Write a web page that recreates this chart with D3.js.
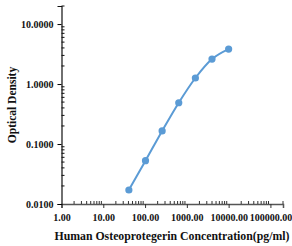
<!doctype html>
<html lang="en">
<head>
<meta charset="utf-8" />
<title>OPG standard curve</title>
<script src="https://d3js.org/d3.v7.min.js"></script>
<style type="text/css">
  body { margin: 0; background: #fff; }
  text { font-family: "Liberation Serif", "Times New Roman", serif; font-weight: bold; }
</style>
</head>
<body>
<div id="svg_div"></div>
<script>
// standard curve readings
var concentration = [40.96, 102.4, 256, 640, 1600, 4000, 10000];
var density = [0.0171, 0.0527, 0.165, 0.488, 1.26, 2.61, 3.83];

var xTickValues = [1, 10, 100, 1000, 10000, 100000];
var yTickValues = [0.01, 0.1, 1, 10];

var width = 292, height = 246;
var xloc = 61.5, yloc = 204;

var svg = d3.select("#svg_div").append("svg")
  .attr("width", width)
  .attr("height", height);

// log scales for both axes
var xScale = d3.scaleLog().domain([1, 200000]).range([xloc, 283]);
var yScale = d3.scaleLog().domain([0.01, 20]).range([yloc, 6]);

// minor ticks 2..9 of each decade
function minors(lo, hi) {
  var out = [];
  for (var p = lo; p < hi; p++) {
    for (var k = 2; k <= 9; k++) {
      out.push(k * Math.pow(10, p));
    }
  }
  return out;
}

var xMinor = minors(0, 6).filter(function(v){ return v <= 200000; });
var yMinor = minors(-2, 2).filter(function(v){ return v <= 20; });

// x axis
var gx = svg.append("g").attr("transform", "translate(0," + yloc + ")");
gx.call(d3.axisBottom(xScale).tickValues(xTickValues).tickSize(4).tickPadding(4)
    .tickFormat(function(d){ return d3.format(".2f")(d); }))
  .call(function(g){ g.select(".domain").attr("stroke", "#555").attr("stroke-width", 1.5); });
gx.selectAll(".tick line").attr("stroke", "#333");
gx.selectAll(".tick text").attr("font-size", "10px").attr("fill", "#111").attr("dy", "0.9em");
gx.selectAll(".minor").data(xMinor).enter().append("line")
  .attr("class", "minor")
  .attr("x1", function(d){ return xScale(d); })
  .attr("x2", function(d){ return xScale(d); })
  .attr("y1", 0).attr("y2", -3)
  .attr("stroke", "#333");

// y axis
var gy = svg.append("g").attr("transform", "translate(" + xloc + ",0)");
gy.call(d3.axisLeft(yScale).tickValues(yTickValues).tickSize(4).tickPadding(4)
    .tickFormat(function(d){ return d3.format(".4f")(d); }))
  .call(function(g){ g.select(".domain").attr("stroke", "#111").attr("stroke-width", 1.2); });
gy.selectAll(".tick text").attr("font-size", "10px").attr("fill", "#111");
gy.selectAll(".minor").data(yMinor).enter().append("line")
  .attr("class", "minor")
  .attr("x1", 0).attr("x2", 3)
  .attr("y1", function(d){ return yScale(d); })
  .attr("y2", function(d){ return yScale(d); })
  .attr("stroke", "#111");

// curve
var line = d3.line()
  .x(function(d, i){ return xScale(concentration[i]); })
  .y(function(d){ return yScale(d); })
  .curve(d3.curveMonotoneX);

svg.append("path")
  .datum(density)
  .attr("d", line)
  .attr("fill", "none")
  .attr("stroke", "#5b9bd5")
  .attr("stroke-width", 2);

svg.selectAll("circle").data(density).enter().append("circle")
  .attr("cx", function(d, i){ return xScale(concentration[i]); })
  .attr("cy", function(d){ return yScale(d); })
  .attr("r", 3.6)
  .attr("fill", "#5b9bd5");

// axis titles
svg.append("text")
  .attr("x", 172).attr("y", 240)
  .attr("text-anchor", "middle")
  .attr("font-size", "11.8px")
  .attr("fill", "#111")
  .text("Human Osteoprotegerin Concentration(pg/ml)");

svg.append("text")
  .attr("transform", "translate(16,105) rotate(-90)")
  .attr("text-anchor", "middle")
  .attr("font-size", "11.5px")
  .attr("fill", "#111")
  .text("Optical Density");
</script>
</body>
</html>
